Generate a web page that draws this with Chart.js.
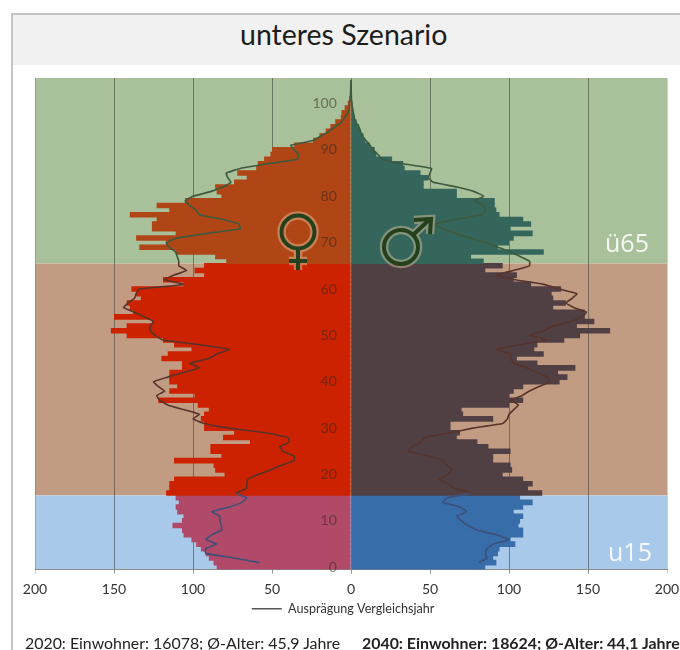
<!DOCTYPE html>
<html>
<head>
<meta charset="utf-8">
<title>unteres Szenario</title>
<script src="https://cdn.jsdelivr.net/npm/chart.js@4"></script>
<style>
  html, body { margin: 0; padding: 0; background: #fff; }
  #page { position: relative; width: 680px; height: 650px; overflow: hidden; font-family: Lato, sans-serif; filter: blur(0.5px); }
  #frame { position: absolute; left: 11px; top: 13px; width: 680px; height: 650px; border: 2px solid #c4c4c4; box-sizing: border-box; }
  #head { position: absolute; left: 13px; top: 15px; width: 667px; height: 50px; background: #f1f1f1; }
  #title { position: absolute; left: 240px; top: 15px; font: 28.5px Lato, sans-serif; color: #1c1c1c; line-height: 38px; white-space: nowrap; }
  canvas { position: absolute; left: 0; top: 0; }
  .band { position: absolute; font-size: 25px; line-height: 30px; color: rgba(255,255,255,.88); font-family: "Open Sans", sans-serif; }
  .foot { position: absolute; top: 634px; font-size: 15.9px; line-height: 18px; color: #222; white-space: nowrap; }
</style>
</head>
<body>
<div id="page">
  <div id="frame"></div>
  <div id="head"></div>
  <div id="title">unteres Szenario</div>
  <canvas id="pyramid" width="680" height="650"></canvas>
  <div class="band" style="left:605px;top:227px">ü65</div>
  <div class="band" style="left:608px;top:536px">u15</div>
  <div class="foot" style="left:25px">2020: Einwohner: 16078; Ø-Alter: 45,9 Jahre</div>
  <div class="foot" style="left:362px;font-weight:700">2040: Einwohner: 18624; Ø-Alter: 44,1 Jahre</div>
</div>
<script>
// values per age year, index 0 = age 0
const femaleBars = [
  85,87,90,92,95,98,101,106,107,113,
  107,106,110,111,109,111,117,115,115,112,
  80,86,87,112,82,89,89,64,81,74,
  93,93,95,93,90,97,122,99,115,110,
  115,115,115,107,107,120,116,101,112,119,
  142,152,142,126,150,138,140,142,133,136,
  139,106,119,93,99,93,79,86,111,134,
  117,136,111,126,126,123,140,115,123,105,
  82,85,86,74,66,72,60,59,55,51,
  50,36,24,20,16,13,10,6.5,6,4,
  2,1,0.5,0,0,0
];
const maleBars = [
  85,92,90,93,94,104,101,109,109,106,
  107,109,103,109,115,107,121,112,115,109,
  96,102,101,90,90,101,87,80,67,69,
  63,63,90,71,70,100,109,100,103,109,
  132,137,131,142,118,105,122,116,118,135,
  145,164,143,154,148,148,128,136,128,127,
  133,114,103,105,85,96,84,76,122,93,
  100,103,115,101,114,109,94,92,91,91,
  67,67,46,46,49,44,34,33,26,16,
  15,12,9,8,6,5,3.6,2.5,1.5,1,
  1,0.5,0,0,0,0
];
const femaleLine = [
  null,58,74,92,92,85,92,88,82,82,
  83,83,88,77,69,66,73,66,66,65,
  59,51,44,36,36,43,45,39,40,54,
  77,93,100,96,106,116,121,123,118,122,
  125,116,106,96,102,90,85,77,96,119,
  124,127,127,125,131,137,144,141,137,136,
  134,106,118,112,104,109,109,110,111,115,
  117,110,91,70,71,81,96,98,102,105,
  100,89,81,76,78,79,70,53,34,33,
  36,38,24,19,14,10,6,4,2,1,
  1,0.5,0.3,0.2,0.1,0
];
const maleLine = [
  null,81,86,85,86,90,100,92,80,74,
  70,67,73,69,58,61,76,66,61,56,
  61,64,61,58,49,36,39,44,47,63,
  77,96,99,100,103,106,101,108,113,119,
  126,124,118,111,103,101,101,92,107,124,
  113,122,128,139,146,149,141,136,140,143,
  132,122,104,92,103,113,113,107,101,93,
  86,75,66,58,53,66,83,85,84,78,
  84,78,67,52,49,50,51,33,20,17,
  14,12,9.5,7,6,5,3,2,1.5,1,
  0.5,0.3,0.2,0.1,0,0
];
const ages = femaleBars.map((v, i) => i);
const xTicks = [-200, -150, -100, -50, 0, 50, 100, 150, 200];

// age groups: u15 = 0..15, middle = 16..65, ü65 = 66+
const bandBg = ["#a9c9ea", "#c29c82", "#a9c19a"];
const femaleCol = ["#b04a68", "#cc2200", "#b04516"];
const maleCol = ["#376da8", "#504044", "#35665c"];
const lineCol = ["#3f4f78", "#57332a", "#3e5a3c"];
const bandOf = age => (age <= 15 ? 0 : age <= 65 ? 1 : 2);

const neg = arr => arr.map(v => (v === null ? null : -v));

const bandsPlugin = {
  id: "bands",
  beforeDraw(chart) {
    const { ctx, chartArea: a, scales: { y } } = chart;
    const step = y.getPixelForValue(0) - y.getPixelForValue(1);
    const y16 = y.getPixelForValue(15) - step / 2;
    const y66 = y.getPixelForValue(65) - step / 2;
    ctx.save();
    ctx.fillStyle = bandBg[2];
    ctx.fillRect(a.left, a.top, a.width, y66 - a.top);
    ctx.fillStyle = bandBg[1];
    ctx.fillRect(a.left, y66, a.width, y16 - y66);
    ctx.fillStyle = bandBg[0];
    ctx.fillRect(a.left, y16, a.width, a.bottom - y16);
    ctx.restore();
  }
};

// venus / mars signs on top of the bars
const signsPlugin = {
  id: "signs",
  afterDatasetsDraw(chart) {
    const ctx = chart.ctx;
    const venus = () => {
      ctx.beginPath();
      ctx.arc(298, 232, 16.5, 0, Math.PI * 2);
      ctx.moveTo(298, 249);
      ctx.lineTo(298, 270);
      ctx.moveTo(289, 261);
      ctx.lineTo(307, 261);
    };
    const mars = () => {
      ctx.beginPath();
      ctx.arc(401, 247, 17, 0, Math.PI * 2);
      ctx.moveTo(413, 235);
      ctx.lineTo(430, 219);
      ctx.moveTo(414, 220);
      ctx.lineTo(431, 219);
      ctx.lineTo(430, 234);
    };
    ctx.save();
    [venus, mars].forEach(sign => {
      sign();
      ctx.strokeStyle = "rgba(228,205,165,.45)";
      ctx.lineWidth = 8.5;
      ctx.stroke();
      sign();
      ctx.strokeStyle = "#24401c";
      ctx.lineWidth = 4;
      ctx.stroke();
    });
    ctx.restore();
  }
};

Chart.defaults.font.family = 'Lato, sans-serif';

new Chart(document.getElementById("pyramid").getContext("2d"), {
  type: "bar",
  plugins: [bandsPlugin, signsPlugin],
  data: {
    labels: ages,
    datasets: [
      {
        label: "Frauen",
        data: neg(femaleBars),
        backgroundColor: c => femaleCol[bandOf(c.dataIndex)],
        grouped: false,
        barPercentage: 1.2,
        categoryPercentage: 1,
        order: 2
      },
      {
        label: "Männer",
        data: maleBars,
        backgroundColor: c => maleCol[bandOf(c.dataIndex)],
        grouped: false,
        barPercentage: 1.2,
        categoryPercentage: 1,
        order: 2
      },
      {
        type: "line",
        indexAxis: "y",
        label: "Ausprägung Vergleichsjahr",
        data: neg(femaleLine),
        borderColor: "#555",
        borderWidth: 1.6,
        pointRadius: 0,
        tension: 0.1,
        segment: { borderColor: c => lineCol[bandOf(c.p0DataIndex)] },
        order: 1
      },
      {
        type: "line",
        indexAxis: "y",
        label: "Ausprägung Vergleichsjahr",
        data: maleLine,
        borderColor: "#555",
        borderWidth: 1.6,
        pointRadius: 0,
        tension: 0.1,
        segment: { borderColor: c => lineCol[bandOf(c.p0DataIndex)] },
        order: 1
      }
    ]
  },
  options: {
    indexAxis: "y",
    responsive: false,
    animation: false,
    layout: { padding: { left: 35, right: 13, top: 78, bottom: 25 } },
    scales: {
      x: {
        min: -200,
        max: 200,
        afterBuildTicks: axis => { axis.ticks = xTicks.map(v => ({ value: v })); },
        afterFit: axis => {
          axis.height -= 2;
          axis.paddingLeft = 0;
          axis.paddingRight = 0;
        },
        ticks: {
          callback: v => Math.abs(v),
          color: "#333",
          maxRotation: 0,
          padding: 7,
          font: { size: 14 }
        },
        grid: {
          color: c => (Math.abs(c.tick.value) === 200 ? "rgba(90,90,110,.3)" : "rgba(55,60,55,.55)"),
          lineWidth: 1,
          tickLength: 4
        },
        border: { color: "#8a8a8a" }
      },
      y: {
        // labels sit a little left of the centre line
        position: { x: -9 },
        reverse: true,
        afterFit: axis => {
          axis.width = 0;
          axis.paddingTop = 0;
          axis.paddingBottom = 0;
        },
        ticks: {
          autoSkip: false,
          z: 1,
          padding: 0,
          color: "rgba(45,40,30,.55)",
          font: { size: 14 },
          callback(v) {
            const age = this.getLabelForValue(v);
            return age % 10 === 0 ? age : "";
          }
        },
        grid: { display: false },
        border: { display: false }
      }
    },
    plugins: {
      title: { display: false },
      tooltip: { enabled: false },
      legend: {
        position: "bottom",
        labels: {
          usePointStyle: true,
          pointStyle: "line",
          pointStyleWidth: 30,
          padding: 0,
          color: "#333",
          font: { size: 12.6 },
          filter: item => {
            // trailing spaces nudge the centred legend to the left
            item.text += "\u00a0".repeat(5);
            return item.datasetIndex === 2;
          }
        }
      }
    }
  }
});
</script>
</body>
</html>
